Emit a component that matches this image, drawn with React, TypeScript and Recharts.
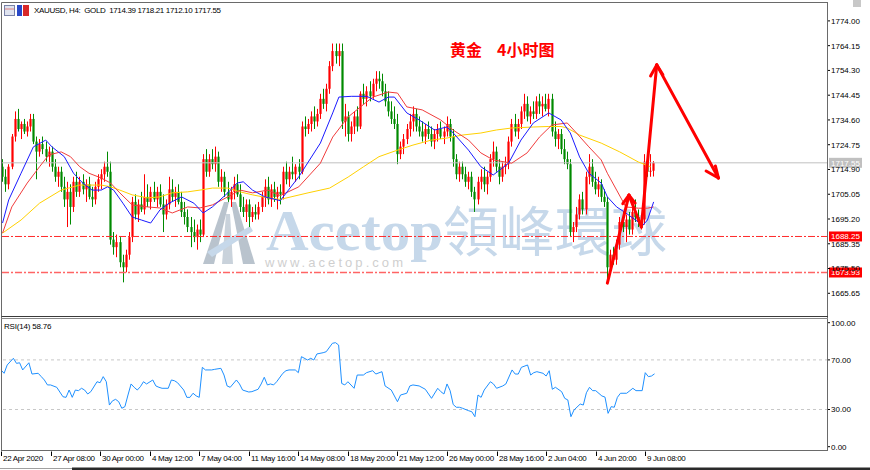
import React from 'react';
import { ComposedChart, LineChart, Bar, Line, XAxis, YAxis, ReferenceLine } from 'recharts';

// XAUUSD H4 candles [open, high, low, close]
const ohlc: [number, number, number, number][] = [
  [1716, 1719, 1710, 1712], [1712, 1715, 1706, 1709], [1709, 1717, 1707, 1716], [1716, 1729, 1715, 1728],
  [1728, 1738, 1726, 1735], [1735, 1739, 1730, 1731], [1731, 1734, 1727, 1733], [1733, 1735, 1729, 1730],
  [1730, 1734, 1728, 1732], [1732, 1737, 1730, 1735], [1735, 1737, 1725, 1726], [1726, 1728, 1711, 1722],
  [1722, 1727, 1720, 1725], [1725, 1728, 1721, 1723], [1723, 1726, 1718, 1720], [1720, 1724, 1716, 1722],
  [1722, 1724, 1714, 1716], [1716, 1719, 1710, 1712], [1712, 1716, 1708, 1714], [1714, 1716, 1706, 1708],
  [1708, 1712, 1700, 1703], [1703, 1710, 1692, 1706], [1706, 1709, 1693, 1700], [1700, 1712, 1698, 1710],
  [1710, 1714, 1704, 1706], [1706, 1712, 1704, 1710], [1710, 1713, 1705, 1707], [1707, 1711, 1702, 1709],
  [1709, 1712, 1703, 1704], [1704, 1708, 1700, 1703], [1703, 1710, 1701, 1708], [1708, 1713, 1706, 1711],
  [1711, 1715, 1707, 1713], [1713, 1718, 1710, 1716], [1716, 1722, 1712, 1714], [1714, 1718, 1685, 1687],
  [1687, 1690, 1681, 1684], [1684, 1689, 1680, 1686], [1686, 1688, 1676, 1678], [1678, 1681, 1670, 1676],
  [1676, 1683, 1674, 1681], [1681, 1690, 1679, 1688], [1688, 1704, 1686, 1702], [1702, 1705, 1695, 1697],
  [1697, 1703, 1694, 1701], [1701, 1706, 1698, 1699], [1699, 1713, 1697, 1704], [1704, 1709, 1700, 1702],
  [1702, 1708, 1699, 1706], [1706, 1710, 1702, 1703], [1703, 1708, 1700, 1706], [1706, 1709, 1700, 1701],
  [1701, 1705, 1690, 1697], [1697, 1703, 1695, 1701], [1701, 1712, 1699, 1707], [1707, 1711, 1702, 1704],
  [1704, 1708, 1700, 1706], [1706, 1709, 1701, 1702], [1702, 1706, 1696, 1698], [1698, 1702, 1693, 1696],
  [1696, 1699, 1690, 1692], [1692, 1696, 1684, 1690], [1690, 1695, 1686, 1688], [1688, 1693, 1683, 1691],
  [1691, 1695, 1686, 1689], [1689, 1721, 1688, 1719], [1719, 1723, 1712, 1714], [1714, 1721, 1712, 1719],
  [1719, 1723, 1715, 1717], [1717, 1724, 1714, 1720], [1720, 1722, 1708, 1710], [1710, 1715, 1706, 1712],
  [1712, 1714, 1704, 1706], [1706, 1710, 1702, 1703], [1703, 1708, 1700, 1706], [1706, 1712, 1703, 1709],
  [1709, 1713, 1704, 1705], [1705, 1709, 1698, 1700], [1700, 1704, 1696, 1698], [1698, 1703, 1694, 1701],
  [1701, 1703, 1692, 1696], [1696, 1700, 1694, 1698], [1698, 1701, 1695, 1697], [1697, 1702, 1695, 1700],
  [1700, 1706, 1698, 1704], [1704, 1711, 1700, 1708], [1708, 1712, 1701, 1703], [1703, 1709, 1700, 1707],
  [1707, 1710, 1702, 1704], [1704, 1708, 1699, 1706], [1706, 1709, 1701, 1705], [1705, 1716, 1703, 1714],
  [1714, 1718, 1709, 1711], [1711, 1716, 1708, 1714], [1714, 1720, 1711, 1713], [1713, 1717, 1710, 1716],
  [1716, 1719, 1711, 1714], [1714, 1734, 1713, 1732], [1732, 1736, 1728, 1731], [1731, 1735, 1729, 1733],
  [1733, 1738, 1730, 1736], [1736, 1740, 1731, 1734], [1734, 1739, 1732, 1737], [1737, 1745, 1735, 1743],
  [1743, 1747, 1739, 1741], [1741, 1749, 1738, 1747], [1747, 1758, 1745, 1756], [1756, 1765, 1754, 1762],
  [1762, 1765, 1757, 1760], [1760, 1765, 1756, 1762], [1762, 1765, 1731, 1734], [1734, 1741, 1728, 1736],
  [1736, 1738, 1726, 1729], [1729, 1734, 1726, 1732], [1732, 1738, 1729, 1736], [1736, 1740, 1730, 1732],
  [1732, 1746, 1731, 1745], [1745, 1749, 1741, 1743], [1743, 1748, 1740, 1746], [1746, 1750, 1742, 1744],
  [1744, 1751, 1743, 1749], [1749, 1754, 1746, 1751], [1751, 1754, 1747, 1750], [1750, 1753, 1744, 1746],
  [1746, 1749, 1740, 1742], [1742, 1746, 1736, 1738], [1738, 1742, 1733, 1735], [1735, 1740, 1731, 1733],
  [1733, 1737, 1717, 1721], [1721, 1726, 1719, 1724], [1724, 1729, 1721, 1727], [1727, 1733, 1725, 1731],
  [1731, 1737, 1728, 1734], [1734, 1740, 1730, 1737], [1737, 1739, 1730, 1732], [1732, 1736, 1728, 1730],
  [1730, 1734, 1726, 1728], [1728, 1733, 1725, 1731], [1731, 1734, 1727, 1729], [1729, 1732, 1724, 1726],
  [1726, 1731, 1723, 1729], [1729, 1733, 1726, 1731], [1731, 1734, 1727, 1728], [1728, 1732, 1725, 1730],
  [1730, 1736, 1728, 1733], [1733, 1735, 1726, 1728], [1728, 1731, 1716, 1719], [1719, 1721, 1711, 1713],
  [1713, 1718, 1710, 1716], [1716, 1718, 1711, 1713], [1713, 1716, 1708, 1710], [1710, 1714, 1707, 1712],
  [1712, 1714, 1704, 1706], [1706, 1708, 1698, 1703], [1703, 1712, 1701, 1710], [1710, 1715, 1707, 1712],
  [1712, 1716, 1706, 1709], [1709, 1714, 1705, 1712], [1712, 1721, 1710, 1719], [1719, 1726, 1716, 1722],
  [1722, 1724, 1714, 1716], [1716, 1719, 1709, 1712], [1712, 1718, 1710, 1716], [1716, 1720, 1713, 1717],
  [1717, 1728, 1715, 1726], [1726, 1735, 1724, 1733], [1733, 1737, 1728, 1730], [1730, 1735, 1727, 1733],
  [1733, 1740, 1731, 1738], [1738, 1745, 1735, 1741], [1741, 1744, 1734, 1736], [1736, 1740, 1733, 1738],
  [1738, 1742, 1735, 1737], [1737, 1744, 1735, 1742], [1742, 1745, 1737, 1740], [1740, 1744, 1736, 1741],
  [1741, 1745, 1738, 1739], [1739, 1745, 1736, 1743], [1743, 1745, 1728, 1730], [1730, 1734, 1724, 1727],
  [1727, 1731, 1723, 1729], [1729, 1731, 1721, 1723], [1723, 1727, 1717, 1719], [1719, 1722, 1715, 1717],
  [1717, 1719, 1688, 1690], [1690, 1694, 1686, 1692], [1692, 1700, 1690, 1697], [1697, 1705, 1695, 1703],
  [1703, 1706, 1697, 1699], [1699, 1714, 1697, 1712], [1712, 1721, 1709, 1716], [1716, 1719, 1708, 1710],
  [1710, 1714, 1705, 1707], [1707, 1712, 1704, 1709], [1709, 1711, 1702, 1704], [1704, 1707, 1700, 1702],
  [1702, 1704, 1671, 1676], [1676, 1683, 1674, 1681], [1681, 1684, 1677, 1679], [1679, 1687, 1677, 1685],
  [1685, 1696, 1683, 1694], [1694, 1698, 1690, 1692], [1692, 1697, 1686, 1695], [1695, 1698, 1689, 1691],
  [1691, 1700, 1689, 1698], [1698, 1703, 1694, 1696], [1696, 1699, 1692, 1694], [1694, 1697, 1691, 1695],
  [1695, 1721, 1693, 1718], [1718, 1722, 1712, 1714], [1714, 1721, 1712, 1714.39], [1714.39, 1718.21, 1712.1, 1717.55],
];

// moving averages: [bar, price]
const maFast: [number, number][] = [
  [0, 1693.6], [2, 1702.8], [6, 1713.4], [10, 1723.9], [14, 1726.6], [16, 1723.9], [20, 1720], [23, 1713.4],
  [26, 1709.5], [29, 1706.7], [32, 1706.7], [34, 1708], [36, 1706.7], [39, 1701.5], [42, 1696], [45, 1694.8],
  [48, 1693.6], [51, 1698.8], [54, 1701.5], [58, 1704], [62, 1701.5], [65, 1697.6], [68, 1700], [73, 1705.6],
  [76, 1709.5], [78, 1710], [81, 1706.7], [85, 1704], [90, 1702.5], [96, 1712], [103, 1725.4], [107, 1737.4],
  [109, 1743.7], [113, 1744], [118, 1744], [122, 1741.7], [125, 1743.7], [127, 1743.7], [131, 1737.4], [135, 1734.6],
  [140, 1730.6], [144, 1731.8], [146, 1729.5], [151, 1722.6], [155, 1716], [159, 1712.7], [164, 1717.4], [168, 1726.6],
  [172, 1733.4], [177, 1737.4], [181, 1734.6], [184, 1729.4], [187, 1719.9], [190, 1713.4], [194, 1709.5], [196, 1704],
  [199, 1700], [202, 1697.6], [206, 1694], [207, 1692], [209, 1694.8], [211, 1702],
];
const maMid: [number, number][] = [
  [0, 1689.6], [3, 1700], [8, 1709.5], [12, 1716], [15, 1720.7], [19, 1721.9], [22, 1720], [25, 1716],
  [28, 1713.4], [32, 1711.5], [35, 1709.5], [38, 1705.6], [42, 1700.8], [47, 1700], [51, 1699.6], [55, 1697.6],
  [60, 1700], [64, 1699.6], [68, 1700.8], [73, 1704], [77, 1706.7], [81, 1705.6], [86, 1706.7], [90, 1704.5],
  [96, 1708], [103, 1717.4], [107, 1727.8], [112, 1735.8], [116, 1739.8], [120, 1743.7], [125, 1745.7], [128, 1745.3],
  [131, 1739.8], [136, 1738.6], [142, 1734.6], [146, 1730.6], [151, 1726.6], [155, 1721.5], [159, 1718.7], [165, 1717.4],
  [170, 1721.5], [174, 1727.8], [178, 1732.6], [183, 1733.4], [186, 1729.4], [190, 1723.9], [194, 1718.7], [196, 1713.4],
  [199, 1706.7], [202, 1700], [206, 1699.5], [209, 1699.5], [211, 1700],
];
const maSlow: [number, number][] = [
  [0, 1689.6], [6, 1694.8], [12, 1701.5], [19, 1706.7], [25, 1708.7], [32, 1708.7], [35, 1708], [38, 1706.7],
  [42, 1704.8], [47, 1703.6], [51, 1704], [55, 1705.6], [60, 1706], [64, 1706.7], [68, 1707.5], [73, 1707.5],
  [77, 1706], [81, 1704.8], [86, 1703.6], [90, 1703], [99, 1705.6], [106, 1707.5], [112, 1711.9], [117, 1716],
  [122, 1720], [128, 1722.6], [133, 1724.6], [139, 1726.6], [144, 1727.4], [149, 1728.6], [155, 1729.4], [160, 1730.6],
  [165, 1731.4], [172, 1731.8], [177, 1732], [181, 1732], [183, 1731.4], [187, 1728.6], [194, 1725.4], [200, 1721.9],
  [206, 1717.9], [210, 1716],
];

// RSI(14): [bar, value]
const rsi14: [number, number][] = [
  [0, 61.9], [1, 59.2], [2, 65.9], [4, 71.3], [5, 67.2], [6, 67.7], [7, 61.9], [9, 67.7], [10, 58.6], [12, 59.2],
  [13, 56.5], [14, 53.8], [15, 49.8], [16, 49.8], [18, 47.9], [20, 40.3], [21, 39.8], [22, 45.7], [23, 39.8], [24, 45.7],
  [25, 45.2], [26, 47.1], [27, 45.7], [28, 42.5], [29, 44.4], [31, 52.4], [32, 51.6], [33, 56.5], [34, 52.4], [35, 33.6],
  [36, 37], [37, 38.2], [38, 36.3], [39, 31], [40, 32.3], [41, 41.7], [42, 50.6], [43, 47.9], [44, 45.7], [45, 48.4],
  [46, 52.4], [47, 50.6], [49, 53.8], [50, 49], [51, 47.9], [52, 47.1], [54, 47.1], [55, 53.8], [56, 53.2], [57, 51.6],
  [59, 45.7], [60, 39.8], [61, 39.8], [62, 43.1], [63, 41], [64, 39.8], [65, 64], [66, 61.9], [68, 61.9], [69, 62.4],
  [71, 63.2], [72, 57.8], [73, 49], [74, 47.9], [76, 53.8], [77, 50.6], [78, 45.7], [80, 44.1], [81, 44.4], [83, 46.3],
  [84, 50.6], [85, 56], [86, 49.8], [87, 50.6], [88, 49.8], [89, 52.4], [91, 59.2], [92, 61.3], [93, 61.9], [95, 61.9],
  [96, 59.7], [97, 72.6], [99, 69.9], [100, 71.3], [101, 69.9], [102, 74.8], [104, 75.8], [105, 76.6], [107, 83.4], [108, 83.9],
  [109, 82], [110, 51], [111, 49.8], [112, 52.4], [114, 47.1], [115, 57.8], [117, 57.8], [118, 59.7], [120, 61.3], [121, 58.6],
  [123, 60.5], [124, 49], [126, 45.7], [128, 36.3], [129, 41.7], [131, 43.1], [132, 49], [133, 49.8], [135, 49], [137, 46.3],
  [139, 39], [141, 47.1], [142, 44.4], [143, 42.5], [144, 50.6], [145, 45.2], [146, 34], [147, 31.8], [148, 31.8], [149, 31],
  [151, 29], [152, 28.2], [153, 24.2], [154, 41.7], [155, 39.8], [156, 45.7], [158, 52.4], [159, 50.6], [160, 47.1], [162, 49],
  [163, 50.6], [165, 61.9], [166, 58.6], [167, 58.6], [168, 64], [170, 65.9], [171, 57.8], [172, 59.7], [173, 60.5], [175, 59.2],
  [176, 57], [177, 61.3], [178, 46.3], [179, 47.9], [181, 44.4], [182, 39], [183, 37.7], [184, 24.2], [185, 29.6], [187, 34.4],
  [188, 33.6], [189, 43.5], [190, 47.9], [191, 45.2], [192, 45.2], [194, 40.9], [195, 40], [196, 26.9], [197, 32.3], [198, 31.8],
  [199, 39.8], [200, 43.1], [202, 43.1], [204, 47.1], [205, 45.2], [207, 45.2], [208, 59.7], [209, 56.5], [210, 57], [211, 58.76],
];

const priceTicks = [1665.65, 1675.5, 1685.35, 1695.2, 1705.05, 1714.9, 1724.75, 1734.6, 1744.45, 1754.3, 1764.15, 1774];
const rsiTicks = [0, 30, 70, 100];
const timeLabels = [
  '22 Apr 2020', '27 Apr 08:00', '30 Apr 00:00', '4 May 12:00', '7 May 04:00', '11 May 16:00', '14 May 08:00',
  '18 May 20:00', '21 May 12:00', '26 May 00:00', '28 May 16:00', '2 Jun 04:00', '4 Jun 20:00', '9 Jun 08:00',
];
const lastPrice = 1717.55;
const level1 = 1688.25;
const level2 = 1673.93;

// hand-drawn forecast arrow, in [bar, price]
const arrowPath: [number, number][] = [[196, 1669.7], [203, 1704.7], [207, 1692], [212, 1756.5], [232, 1711.5]];
const arrowBarbs: [number, number, number, number][] = [
  [201, 1701.3, 203, 1704.7], [205, 1701.5, 203, 1704.7],
  [210, 1752.1, 212, 1756.5], [214, 1752.6, 212, 1756.5],
  [231, 1716.3, 232, 1711.5], [228, 1714.3, 232, 1711.5],
];

const SLOTS = 268;
const LABEL_STEP = 16;
const UP = '#ff0000';
const DOWN = '#008a00';
const FONT = "'Liberation Sans', Arial, sans-serif";

const rows: any[] = Array.from({ length: SLOTS }, (_, i) => {
  const r: any = { i };
  const k = ohlc[i];
  if (k) { r.o = k[0]; r.h = k[1]; r.l = k[2]; r.c = k[3]; }
  return r;
});
maFast.forEach(([i, v]) => { rows[i].fast = v; });
maMid.forEach(([i, v]) => { rows[i].mid = v; });
maSlow.forEach(([i, v]) => { rows[i].slow = v; });
rsi14.forEach(([i, v]) => { rows[i].rsi = v; });

const Candle = (props: any) => {
  const { x, y, width, height, payload } = props;
  if (!payload || payload.o == null || height == null) return null;
  const { o, h, l, c } = payload;
  const cx = Math.round(x + width / 2) + 0.5;
  const k = h === l ? 0 : height / (h - l);
  const top = y + (h - Math.max(o, c)) * k;
  const bot = y + (h - Math.min(o, c)) * k;
  const col = c >= o ? UP : DOWN;
  return (
    <g>
      <line x1={cx} x2={cx} y1={y} y2={y + height} stroke={col} strokeWidth={1} />
      <rect x={cx - 1.1} y={top} width={2.2} height={Math.max(bot - top, 1)} fill={col} />
    </g>
  );
};

const AxisBox = ({ viewBox, value, bg }: any) => {
  if (!viewBox) return null;
  const bx = viewBox.x + viewBox.width + 1;
  return (
    <g>
      <rect x={bx} y={viewBox.y - 5} width={33} height={10} fill={bg} />
      <text x={bx + 2} y={viewBox.y + 3} fontSize={8} fill="#fff" fontFamily={FONT}>{value}</text>
    </g>
  );
};

const TimeTick = ({ x, payload }: any) => {
  const n = payload.value / LABEL_STEP;
  const lab = timeLabels[n];
  if (!lab) return null;
  const tx = Math.round(x) + 0.5;
  return (
    <g>
      <line x1={tx} x2={tx} y1={132.5} y2={137} stroke="#000" />
      <text x={tx + 1.5} y={141.5} fontSize={8} letterSpacing={-0.3} fill="#000" fontFamily={FONT}>{lab}</text>
    </g>
  );
};

const candleRange = (d: any) => (d.o == null ? null : [d.l, d.h]);

export default function App() {
  return (
    <div style={{ position: 'relative', width: 870, height: 470, background: '#fff', overflow: 'hidden', fontFamily: FONT }}>
      <style>{'body{margin:0}'}</style>
      {/* watermark */}
      <svg width={870} height={470} style={{ position: 'absolute', left: 0, top: 0 }}>
        <polygon points="203,264 224,202 229,202 214,264" fill="#b9c3cd" />
        <polygon points="231,202 236,202 255,264 243,264" fill="#b9c3cd" />
        <polygon points="226,214 230,214 233,264 222,264" fill="#c9d2db" />
        <polygon points="207,252 250,226 253,231 212,257" fill="#c6d8ea" />
        <text x={266} y={250} fontSize={58} fontWeight={700} fill="#c6d8ea" fontFamily="'Liberation Serif', serif" textLength={177} lengthAdjust="spacingAndGlyphs">Acetop</text>
        <text x={443} y={252} fontSize={54} fill="#c6d8ea" fontFamily="'Noto Sans CJK TC', sans-serif" textLength={224} lengthAdjust="spacingAndGlyphs">領峰環球</text>
        <text x={265} y={267} fontSize={13} fill="#cfcfcf" fontFamily={FONT} textLength={138} lengthAdjust="spacing">www.acetop.com</text>
      </svg>

      <div style={{ position: 'absolute', left: 0, top: 0 }}>
        <ComposedChart width={870} height={320} data={rows} margin={{ top: 3, right: 1, bottom: 3, left: 1 }}>
          <XAxis dataKey="i" hide />
          <YAxis
            orientation="right" width={41} domain={[1656.22, 1781.12]} allowDataOverflow
            ticks={priceTicks} interval={0} tickSize={2} tickMargin={1} axisLine={false}
            tickLine={{ stroke: '#000' }} tick={{ fontSize: 8, fill: '#000', fontFamily: FONT }}
            tickFormatter={(v: number) => v.toFixed(2)}
          />
          <ReferenceLine y={lastPrice} stroke="#c0c0c0" label={<AxisBox value={lastPrice.toFixed(2)} bg="#c0c0c0" />} />
          <ReferenceLine y={level1} stroke="#ff2a2a" strokeDasharray="7 2 2 2" label={<AxisBox value={level1.toFixed(2)} bg="#ff0000" />} />
          <ReferenceLine y={level2} stroke="#ff6464" strokeWidth={1.5} strokeDasharray="7 2 2 2" label={<AxisBox value={level2.toFixed(2)} bg="#ff0000" />} />
          <Bar dataKey={candleRange} shape={<Candle />} isAnimationActive={false} />
          <Line dataKey="slow" stroke="#ffd000" strokeWidth={1} dot={false} connectNulls isAnimationActive={false} />
          <Line dataKey="mid" stroke="#f03c3c" strokeWidth={1} dot={false} connectNulls isAnimationActive={false} />
          <Line dataKey="fast" stroke="#1a1aff" strokeWidth={1} dot={false} connectNulls isAnimationActive={false} />
          {arrowPath.slice(1).map((p, k) => (
            <ReferenceLine
              key={'a' + k}
              segment={[{ x: arrowPath[k][0], y: arrowPath[k][1] }, { x: p[0], y: p[1] }]}
              stroke="#ff0000" strokeWidth={3} strokeLinecap="round"
            />
          ))}
          {arrowBarbs.map((b, k) => (
            <ReferenceLine
              key={'b' + k}
              segment={[{ x: b[0], y: b[1] }, { x: b[2], y: b[3] }]}
              stroke="#ff0000" strokeWidth={3} strokeLinecap="round"
            />
          ))}
        </ComposedChart>
      </div>

      <div style={{ position: 'absolute', left: 0, top: 319 }}>
        <LineChart width={870} height={151} data={rows} margin={{ top: 3.7, right: 1, bottom: 0.3, left: 1 }}>
          <XAxis dataKey="i" interval={LABEL_STEP - 1} height={23} axisLine={false} tickLine={false} tick={<TimeTick />} />
          <YAxis
            orientation="right" width={41} domain={[0, 100]} ticks={rsiTicks} interval={0}
            tickSize={2} tickMargin={1} axisLine={false} tickLine={{ stroke: '#000' }}
            tick={{ fontSize: 8, fill: '#000', fontFamily: FONT }} tickFormatter={(v: number) => v.toFixed(2)}
          />
          <ReferenceLine y={70} stroke="#c8c8c8" strokeDasharray="3 3" />
          <ReferenceLine y={30} stroke="#c8c8c8" strokeDasharray="3 3" />
          <Line dataKey="rsi" stroke="#1e90ff" strokeWidth={1} dot={false} connectNulls isAnimationActive={false} />
        </LineChart>
      </div>

      {/* frames, header and notes */}
      <svg width={870} height={470} style={{ position: 'absolute', left: 0, top: 0, pointerEvents: 'none' }}>
        <line x1={1.5} x2={828} y1={2.5} y2={2.5} stroke="#6a6a6a" />
        <line x1={1.5} x2={1.5} y1={2.5} y2={451} stroke="#6a6a6a" />
        <line x1={827.5} x2={827.5} y1={2.5} y2={451} stroke="#6a6a6a" />
        <line x1={1.5} x2={828} y1={316.5} y2={316.5} stroke="#3a3a3a" />
        <line x1={1.5} x2={828} y1={318.5} y2={318.5} stroke="#8a8a8a" />
        <line x1={1.5} x2={828} y1={450.5} y2={450.5} stroke="#6a6a6a" />
        <rect x={72} y={467.5} width={798} height={2.5} fill="#2a2a2a" />
        <line x1={0} x2={72} y1={468.5} y2={468.5} stroke="#a0a0a0" />
        <rect x={853} y={0} width={8} height={7} fill="#c8c8c8" />
        <rect x={4.5} y={5.5} width={10} height={10} fill="#dfe3ef" stroke="#7a82a8" />
        <line x1={5} x2={14} y1={9} y2={9} stroke="#e08080" />
        <rect x={17} y={5} width={5} height={11} fill="#2848c8" />
        <rect x={23} y={5} width={6} height={11} fill="#d82828" />
        <text x={34} y={13} fontSize={8} letterSpacing={-0.35} fill="#000" fontFamily={FONT} style={{ whiteSpace: 'pre' }}>
          XAUUSD, H4:  GOLD  1714.39 1718.21 1712.10 1717.55
        </text>
        <text x={4} y={329} fontSize={8} letterSpacing={-0.2} fill="#000" fontFamily={FONT}>RSI(14) 58.76</text>
        <text x={450} y={56} fontSize={16} fontWeight={700} fill="#ff0000" fontFamily="'Noto Sans CJK SC', sans-serif">黄金</text>
        <text x={497} y={56} fontSize={16} fontWeight={700} fill="#ff0000" fontFamily="'Noto Sans CJK SC', sans-serif">4小时图</text>
      </svg>
    </div>
  );
}
